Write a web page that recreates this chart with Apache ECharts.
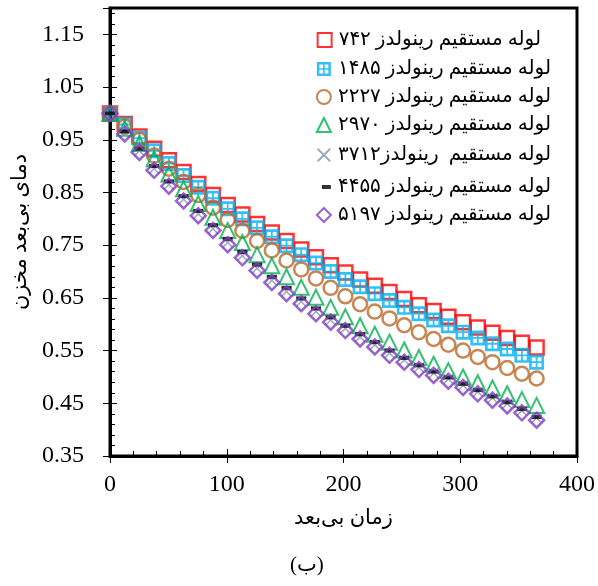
<!DOCTYPE html>
<html><head><meta charset="utf-8">
<script src="https://cdn.jsdelivr.net/npm/echarts@6/dist/echarts.min.js"></script>
<style>html,body{margin:0;padding:0;background:#fff}#c{width:598px;height:586px}</style>
</head><body><div id="c"></div>
<script>
// dimensionless time of each measurement
const times = [0, 12.6, 25.2, 37.8, 50.4, 63, 75.6, 88.2, 100.8, 113.4, 126, 138.6, 151.2, 163.8, 176.4, 189, 201.6, 214.2, 226.8, 239.4, 252, 264.6, 277.2, 289.8, 302.4, 315, 327.6, 340.2, 352.8, 365.4];
// series values (dimensionless tank temperature)
const re742  = [1.000,0.980,0.956,0.933,0.911,0.889,0.866,0.845,0.826,0.808,0.790,0.774,0.758,0.742,0.727,0.712,0.698,0.685,0.673,0.661,0.648,0.636,0.625,0.614,0.604,0.594,0.584,0.574,0.565,0.556];
const re1485 = [1.000,0.979,0.953,0.929,0.905,0.882,0.860,0.839,0.819,0.800,0.783,0.766,0.749,0.732,0.716,0.700,0.685,0.671,0.658,0.645,0.632,0.620,0.608,0.597,0.585,0.574,0.563,0.553,0.541,0.528];
const re2227 = [1.000,0.975,0.950,0.920,0.895,0.870,0.845,0.821,0.798,0.777,0.758,0.740,0.721,0.704,0.687,0.669,0.653,0.638,0.624,0.611,0.598,0.585,0.572,0.561,0.550,0.538,0.528,0.517,0.506,0.497];
const re2970 = [1.000,0.972,0.943,0.914,0.885,0.857,0.829,0.803,0.778,0.755,0.732,0.711,0.690,0.670,0.651,0.632,0.614,0.597,0.581,0.566,0.551,0.537,0.524,0.512,0.500,0.489,0.479,0.468,0.457,0.446];
const re3712 = [1.000,0.963,0.929,0.895,0.865,0.837,0.809,0.781,0.755,0.730,0.706,0.683,0.662,0.643,0.624,0.608,0.592,0.576,0.561,0.545,0.532,0.518,0.507,0.496,0.484,0.472,0.460,0.449,0.436,0.422];
const re4455 = [1.000,0.966,0.933,0.900,0.871,0.843,0.815,0.788,0.762,0.737,0.713,0.690,0.669,0.649,0.630,0.613,0.597,0.581,0.566,0.550,0.536,0.522,0.510,0.499,0.487,0.475,0.463,0.452,0.439,0.424];
const re5197 = [1.000,0.961,0.926,0.892,0.862,0.834,0.806,0.778,0.751,0.726,0.702,0.679,0.658,0.639,0.620,0.604,0.588,0.572,0.557,0.541,0.528,0.514,0.503,0.492,0.480,0.468,0.456,0.445,0.432,0.418];
// legend names
const names = [
  'لوله مستقیم رینولدز ۷۴۲',
  'لوله مستقیم رینولدز ۱۴۸۵',
  'لوله مستقیم رینولدز ۲۲۲۷',
  'لوله مستقیم رینولدز ۲۹۷۰',
  'لوله مستقیم  رینولدز۳۷۱۲',
  'لوله مستقیم رینولدز ۴۴۵۵',
  'لوله مستقیم رینولدز ۵۱۹۷'
];
const xTitle = 'زمان بی‌بعد';
const yTitle = 'دمای بی‌بعد مخزن';
const caption = '(ب)';

const serif = "'Liberation Serif','Times New Roman','DejaVu Sans',serif";
const T = 'rgba(0,0,0,0)';
const gridSquare = 'path://M0,0L10,0L10,10L0,10Z M1.8,1.8L1.8,4.4L4.4,4.4L4.4,1.8Z M5.6,1.8L5.6,4.4L8.2,4.4L8.2,1.8Z M1.8,5.6L1.8,8.2L4.4,8.2L4.4,5.6Z M5.6,5.6L5.6,8.2L8.2,8.2L8.2,5.6Z';
const xMark = 'path://M0,1L1,0L10,9L9,10Z M9,0L10,1L1,10L0,9Z';

const vals = [re742, re1485, re2227, re2970, re3712, re4455, re5197];
const styles = [
  {symbol:'rect', size:14, item:{color:T, borderColor:'#ff0000', borderWidth:2.5}},
  {symbol:gridSquare, size:15, item:{color:'#00b0f0'}},
  {symbol:'circle', size:14, item:{color:T, borderColor:'#b8692a', borderWidth:2.5}},
  {symbol:'triangle', size:15, item:{color:T, borderColor:'#00b050', borderWidth:2}},
  {symbol:xMark, size:11, item:{color:'#8496b0'}},
  {symbol:'rect', size:[10,4], item:{color:'#000'}},
  {symbol:'diamond', size:15, item:{color:T, borderColor:'#7f3fbf', borderWidth:2.5}}
];
const series = vals.map((v,k)=>({
  type:'scatter', name:names[k], symbol:styles[k].symbol, symbolSize:styles[k].size,
  itemStyle:styles[k].item, data: times.map((t,i)=>[t, v[i]]), z: 2+k
}));
const legendTops = [25,54,82,110,140,172,200];
const legendRights = [52,42,42,42,42,42,42];
const legends = names.map((n,k)=>({
  data:[n], right:legendRights[k], top:legendTops[k], orient:'vertical',
  itemWidth: k===5?9:14, itemHeight: k===5?4:14, itemGap:0,
  textStyle:{fontFamily:serif, fontSize:20, color:'#000', padding:[0,0,0,2]}
}));

const chart = echarts.init(document.getElementById('c'), null, {renderer:'canvas'});
chart.setOption({
  animation:false,
  backgroundColor:'#fff',
  grid:{left:110, right:21, top:8, bottom:130, show:true, borderColor:'#000', borderWidth:3, backgroundColor:'#fff'},
  legend: legends,
  xAxis:[{
    type:'value', min:0, max:400, interval:100, position:'bottom',
    axisLine:{show:true, onZero:false, lineStyle:{color:'#000', width:3}},
    axisTick:{show:true, inside:true, length:7, lineStyle:{color:'#000', width:1}},
    minorTick:{show:true, splitNumber:5, length:5, lineStyle:{color:'#000', width:1}},
    splitLine:{show:false},
    axisLabel:{margin:17, fontFamily:serif, fontSize:24, color:'#000'},
    name:xTitle, nameLocation:'middle', nameGap:52,
    nameTextStyle:{fontFamily:serif, fontSize:21, color:'#000'}
  },{
    type:'value', min:0, max:400, interval:100, position:'bottom',
    axisLine:{show:false}, axisLabel:{show:false}, splitLine:{show:false},
    axisTick:{show:true, inside:false, length:7, lineStyle:{color:'#000', width:1}}
  }],
  yAxis:[{
    type:'value', min:0.35, max:1.2, interval:0.1, position:'left',
    axisLine:{show:true, onZero:false, lineStyle:{color:'#000', width:3}},
    axisTick:{show:true, inside:true, length:7, lineStyle:{color:'#000', width:1}},
    minorTick:{show:true, splitNumber:5, length:5, lineStyle:{color:'#000', width:1}},
    splitLine:{show:false},
    axisLabel:{margin:26, fontFamily:serif, fontSize:24, color:'#000',
      formatter:v=> v>1.17 ? '' : v.toFixed(2)},
    name:yTitle, nameLocation:'middle', nameGap:78, nameRotate:90,
    nameTextStyle:{fontFamily:serif, fontSize:21, color:'#000'}
  },{
    type:'value', min:0.35, max:1.2, interval:0.1, position:'left',
    axisLine:{show:false}, axisLabel:{show:false}, splitLine:{show:false},
    axisTick:{show:true, inside:false, length:7, lineStyle:{color:'#000', width:1}}
  }],
  graphic:[{type:'text', left:290, top:555, style:{text:caption, font:"21px "+serif, fill:'#000'}}],
  series: series
});
</script></body></html>
